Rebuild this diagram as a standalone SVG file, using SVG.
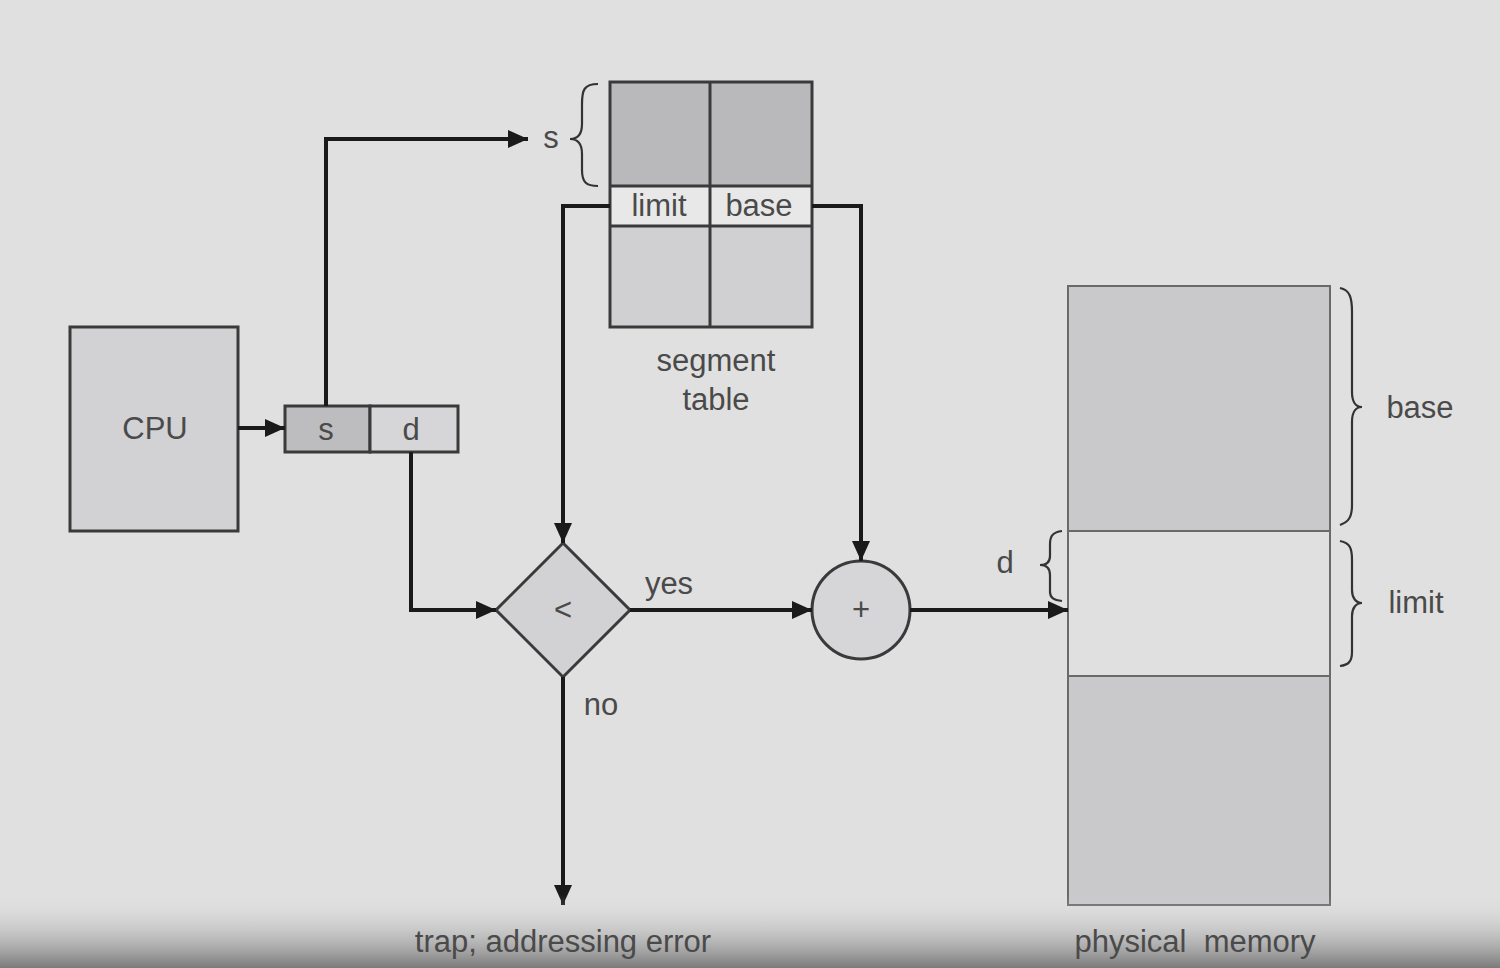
<svg xmlns="http://www.w3.org/2000/svg" width="1500" height="968" viewBox="0 0 1500 968">
<defs>
<marker id="arr" markerUnits="userSpaceOnUse" markerWidth="22" markerHeight="20" refX="20" refY="9" orient="auto">
<path d="M0,0 L20,9 L0,18 z" fill="#1a1a1a"/>
</marker>
<linearGradient id="shade" x1="0" y1="0" x2="0" y2="1">
<stop offset="0" stop-color="#dedede" stop-opacity="0"/>
<stop offset="1" stop-color="#7a7a7a" stop-opacity="1"/>
</linearGradient>
<style>
.t{font-family:"Liberation Sans",Arial,sans-serif;font-size:31px;fill:#4a4a4a;text-anchor:middle;dominant-baseline:central}
.box{stroke:#3a3a3a;stroke-width:3}
.conn{fill:none;stroke:#1a1a1a;stroke-width:4;marker-end:url(#arr)}
.brace{fill:none;stroke:#333;stroke-width:2.2}
.mem{stroke:#6a6a6a;stroke-width:2}
</style>
</defs>
<rect x="0" y="0" width="1500" height="968" fill="#e0e0e0"/>

<g id="cpu">
<rect class="box" x="70" y="327" width="168" height="204" fill="#d2d2d4"/>
<text class="t" x="155" y="428">CPU</text>
</g>

<g id="address">
<rect class="box" x="285" y="406" width="85" height="46" fill="#bdbdbf"/>
<rect class="box" x="370" y="406" width="88" height="46" fill="#d6d6d8"/>
<text class="t" x="326" y="429">s</text>
<text class="t" x="411" y="429">d</text>
</g>

<g id="segment-table">
<rect x="610" y="82" width="202" height="104" fill="#b9b9bb"/>
<rect x="610" y="186" width="202" height="40" fill="#e8e8e8"/>
<rect x="610" y="226" width="202" height="101" fill="#d0d0d2"/>
<rect class="box" x="610" y="82" width="202" height="245" fill="none"/>
<line class="box" x1="710" y1="82" x2="710" y2="327"/>
<line class="box" x1="610" y1="186" x2="812" y2="186"/>
<line class="box" x1="610" y1="226" x2="812" y2="226"/>
<text class="t" x="659" y="205">limit</text>
<text class="t" x="759" y="205">base</text>
<text class="t" x="716" y="360">segment</text>
<text class="t" x="716" y="399">table</text>
<path class="brace" d="M598,84 C584,84 582,90 582,104 L582,124 C582,134 578,139 570,139 C578,139 582,144 582,154 L582,170 C582,182 586,186 598,186"/>
<text class="t" x="551" y="137">s</text>
</g>

<g id="compare">
<polygon class="box" points="563,543 630,610 563,677 496,610" fill="#d2d2d4"/>
<text class="t" x="563" y="609">&lt;</text>
</g>

<g id="adder">
<circle class="box" cx="861" cy="610" r="49" fill="#d6d6d8"/>
<text class="t" x="861" y="609">+</text>
</g>

<g id="physical-memory">
<rect class="mem" x="1068" y="286" width="262" height="245" fill="#c9c9cb"/>
<rect class="mem" x="1068" y="531" width="262" height="145" fill="#e0e0e0"/>
<rect class="mem" x="1068" y="676" width="262" height="229" fill="#c9c9cb"/>
<path class="brace" d="M1340,288 C1350,290 1352,298 1352,312 L1352,392 C1352,402 1356,407 1362,407 C1356,407 1352,412 1352,422 L1352,505 C1352,518 1348,522 1340,525"/>
<text class="t" x="1420" y="407">base</text>
<path class="brace" d="M1340,541 C1350,543 1352,548 1352,560 L1352,590 C1352,598 1356,603 1362,603 C1356,603 1352,608 1352,616 L1352,652 C1352,662 1348,665 1340,666"/>
<text class="t" x="1416" y="602">limit</text>
<path class="brace" d="M1062,531 C1053,532 1050,536 1050,544 L1050,556 C1050,562 1046,565 1040,565 C1046,565 1050,568 1050,575 L1050,592 C1050,598 1054,600 1062,601"/>
<text class="t" x="1005" y="562">d</text>
</g>

<g id="connectors">
<path class="conn" d="M238,428 L285,428"/>
<path class="conn" d="M326,406 L326,139 L528,139"/>
<path class="conn" d="M610,206 L563,206 L563,543"/>
<path class="conn" d="M812,206 L861,206 L861,561"/>
<path class="conn" d="M411,452 L411,610 L496,610"/>
<path class="conn" d="M630,610 L812,610"/>
<path class="conn" d="M910,610 L1068,610"/>
<path class="conn" d="M563,677 L563,905"/>
<text class="t" x="669" y="583">yes</text>
<text class="t" x="601" y="704">no</text>
</g>

<rect x="0" y="895" width="1500" height="73" fill="url(#shade)"/>
<text class="t" x="563" y="941">trap; addressing error</text>
<text class="t" x="1195" y="941" xml:space="preserve">physical  memory</text>
</svg>
